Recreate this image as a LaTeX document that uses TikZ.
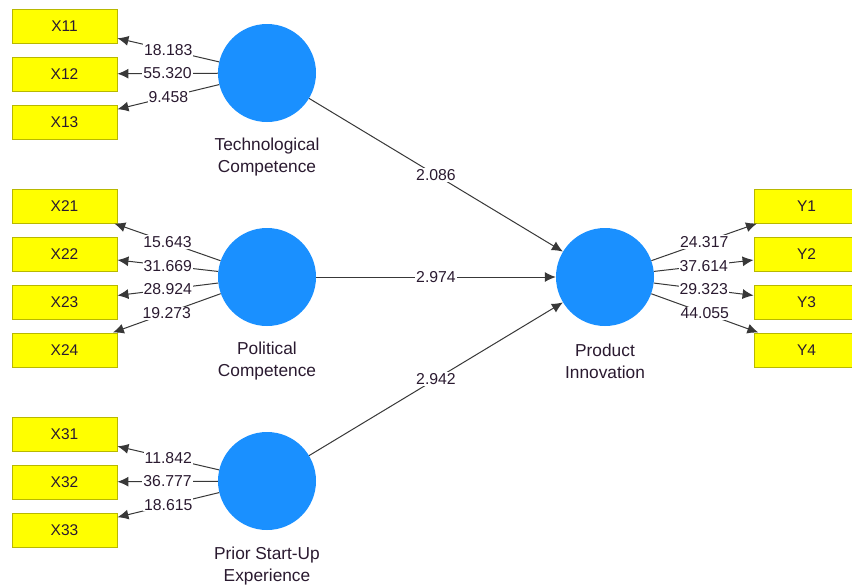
\documentclass[tikz,border=0pt]{standalone}
\usepackage{fontspec}
\setmainfont{Liberation Sans}
\usetikzlibrary{arrows.meta}
\definecolor{boxfill}{HTML}{FFFF00}
\definecolor{boxline}{HTML}{B8B800}
\definecolor{lvblue}{HTML}{1A90FF}
\definecolor{txt}{HTML}{2A1A30}
\definecolor{edge}{HTML}{383838}
\tikzset{
  mv/.style={draw=boxline, line width=0.9, fill=boxfill, minimum width=105, minimum height=34, inner sep=0, text=txt, font=\fontsize{15.5}{17}\selectfont},
  lv/.style={circle, fill=lvblue, minimum size=98, inner sep=0},
  lvlab/.style={align=center, text=txt, font=\fontsize{17.3}{22}\selectfont},
  conn/.style={draw=edge, line width=1, -{Latex[length=11,width=10]}},
  val/.style={fill=white, inner sep=1, text=txt, font=\fontsize{15.8}{17}\selectfont}
}
\begin{document}
\begin{tikzpicture}[x=1pt,y=-1pt]
\clip (0,0) rectangle (852,587);
\fill[white] (0,0) rectangle (852,587);
% latent variables
\node[lv] (tc) at (267,73) {};
\node[lv] (pc) at (267,277) {};
\node[lv] (ps) at (267,481) {};
\node[lv] (pi) at (605,277) {};
\node[lvlab] (tcl) at (267,157) {Technological\\Competence};
\node[lvlab] (pcl) at (267,361) {Political\\Competence};
\node[lvlab] (psl) at (267,566) {Prior Start-Up\\Experience};
\node[lvlab] (pil) at (605,361) {Product\\Innovation};
% indicators
\node[mv] (x11) at (64.5,26) {X11};
\node[mv] (x12) at (64.5,74) {X12};
\node[mv] (x13) at (64.5,122) {X13};
\node[mv] (x21) at (64.5,206) {X21};
\node[mv] (x22) at (64.5,254) {X22};
\node[mv] (x23) at (64.5,302) {X23};
\node[mv] (x24) at (64.5,350) {X24};
\node[mv] (x31) at (64.5,434) {X31};
\node[mv] (x32) at (64.5,482) {X32};
\node[mv] (x33) at (64.5,530) {X33};
\node[mv] (y1) at (806.5,206) {Y1};
\node[mv] (y2) at (806.5,254) {Y2};
\node[mv] (y3) at (806.5,302) {Y3};
\node[mv] (y4) at (806.5,350) {Y4};
% outer loadings
\draw[conn] (tc) -- node[val]{18.183} (x11);
\draw[conn] (tc) -- node[val]{55.320} (x12);
\draw[conn] (tc) -- node[val]{9.458} (x13);
\draw[conn] (pc) -- node[val]{15.643} (x21);
\draw[conn] (pc) -- node[val]{31.669} (x22);
\draw[conn] (pc) -- node[val]{28.924} (x23);
\draw[conn] (pc) -- node[val]{19.273} (x24);
\draw[conn] (ps) -- node[val]{11.842} (x31);
\draw[conn] (ps) -- node[val]{36.777} (x32);
\draw[conn] (ps) -- node[val]{18.615} (x33);
\draw[conn] (pi) -- node[val]{24.317} (y1);
\draw[conn] (pi) -- node[val]{37.614} (y2);
\draw[conn] (pi) -- node[val]{29.323} (y3);
\draw[conn] (pi) -- node[val]{44.055} (y4);
% inner paths
\draw[conn] (tc) -- node[val]{2.086} (pi);
\draw[conn] (pc) -- node[val]{2.974} (pi);
\draw[conn] (ps) -- node[val]{2.942} (pi);
\end{tikzpicture}
\end{document}
